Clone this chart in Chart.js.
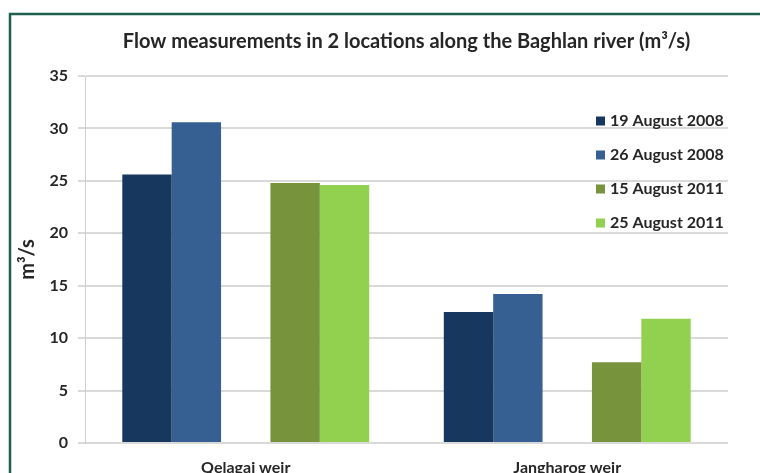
<!DOCTYPE html>
<html>
<head>
<meta charset="utf-8">
<script src="https://cdn.jsdelivr.net/npm/chart.js@4.4.0/dist/chart.umd.min.js"></script>
<style>
  html, body { margin: 0; padding: 0; background: #fff; }
  #wrap { width: 760px; height: 473px; }
</style>
</head>
<body>
<div id="wrap"><canvas id="flowChart" width="760" height="473"></canvas></div>
<script>
// data (m3/s)
const locations = ['Qelagai weir', 'Jangharog weir'];
const seriesNames = ['19 August 2008', '26 August 2008', '15 August 2011', '25 August 2011'];
const aug19of2008 = [25.6, 12.5];
const aug26of2008 = [30.6, 14.2];
const aug15of2011 = [24.8, 7.7];
const aug25of2011 = [24.6, 11.85];
const seriesColors = ['#17375e', '#376092', '#77933c', '#92d050'];
const yMin = 0, yMax = 35, yStep = 5;
const chartTitle = 'Flow measurements in 2 locations along the Baghlan river (m³/s)';

const fontFamily = 'Lato, "Open Sans", sans-serif';

function makeSet(i, values) {
    return {
        label: seriesNames[i],
        data: values,
        backgroundColor: seriesColors[i],
        borderWidth: 0
    };
}

// empty slot between the 2008 and 2011 bars
const spacer = { label: '', data: [null, null], backgroundColor: 'rgba(0,0,0,0)', isSpacer: true };

// frame around the picture
const framePlugin = {
    id: 'frame',
    beforeDraw(chart) {
        const ctx = chart.ctx;
        ctx.save();
        ctx.fillStyle = '#fff';
        ctx.fillRect(0, 0, chart.width, chart.height);
        ctx.strokeStyle = '#1e5f4d';
        ctx.lineWidth = 2.5;
        ctx.beginPath();
        ctx.moveTo(10, chart.height);
        ctx.lineTo(10, 14);
        ctx.lineTo(chart.width, 14);
        ctx.stroke();
        ctx.restore();
    }
};

// title centred over the plot area (not the whole canvas)
const plotTitle = {
    id: 'plotTitle',
    afterDraw(chart) {
        const ctx = chart.ctx;
        const area = chart.chartArea;
        ctx.save();
        ctx.font = 'bold 20px ' + fontFamily;
        ctx.fillStyle = '#262626';
        ctx.textAlign = 'center';
        ctx.textBaseline = 'middle';
        ctx.fillText(chartTitle, (area.left + area.right) / 2, 41.5);
        ctx.restore();
    }
};

// legend drawn inside the plot, on the right
const sideLegend = {
    id: 'sideLegend',
    afterDatasetsDraw(chart) {
        const ctx = chart.ctx;
        const area = chart.chartArea;
        const x = area.right - 132;
        let y = area.top + 45;
        ctx.save();
        ctx.font = 'bold 16px ' + fontFamily;
        ctx.textBaseline = 'middle';
        ctx.textAlign = 'left';
        chart.data.datasets.forEach(ds => {
            if (ds.isSpacer) return;
            ctx.fillStyle = ds.backgroundColor;
            ctx.fillRect(x, y - 4.5, 9, 9);
            ctx.fillStyle = '#262626';
            ctx.fillText(ds.label, x + 14, y);
            y += 34;
        });
        ctx.restore();
    }
};

new Chart(document.getElementById('flowChart'), {
    type: 'bar',
    data: {
        labels: locations,
        datasets: [
            makeSet(0, aug19of2008),
            makeSet(1, aug26of2008),
            spacer,
            makeSet(2, aug15of2011),
            makeSet(3, aug25of2011)
        ]
    },
    options: {
        responsive: false,
        animation: false,
        devicePixelRatio: 1,
        layout: { padding: { left: 0, right: 32, top: 76, bottom: 0 } },
        datasets: {
            bar: { barPercentage: 1, categoryPercentage: 0.768 }
        },
        plugins: {
            legend: { display: false },
            tooltip: { enabled: false },
            title: { display: false }
        },
        scales: {
            x: {
                grid: { display: false },
                border: { display: false },
                ticks: {
                    color: '#262626',
                    font: { family: fontFamily, size: 16, weight: 'bold' },
                    padding: 7
                },
                afterFit(scale) { scale.height = 30; }
            },
            y: {
                min: yMin,
                max: yMax,
                ticks: {
                    stepSize: yStep,
                    color: '#262626',
                    font: { family: fontFamily, size: 16, weight: 'bold' },
                    padding: 10
                },
                grid: { color: '#d9d9d9', lineWidth: 2, tickLength: 7 },
                border: { display: true, color: '#cfcfcf', width: 1 },
                title: {
                    display: true,
                    text: 'm³/s',
                    color: '#262626',
                    font: { family: fontFamily, size: 20, weight: 'bold' },
                    padding: { top: 16, bottom: 0 }
                },
                afterFit(scale) { scale.width = 85; }
            }
        }
    },
    plugins: [framePlugin, plotTitle, sideLegend]
});
</script>
</body>
</html>
